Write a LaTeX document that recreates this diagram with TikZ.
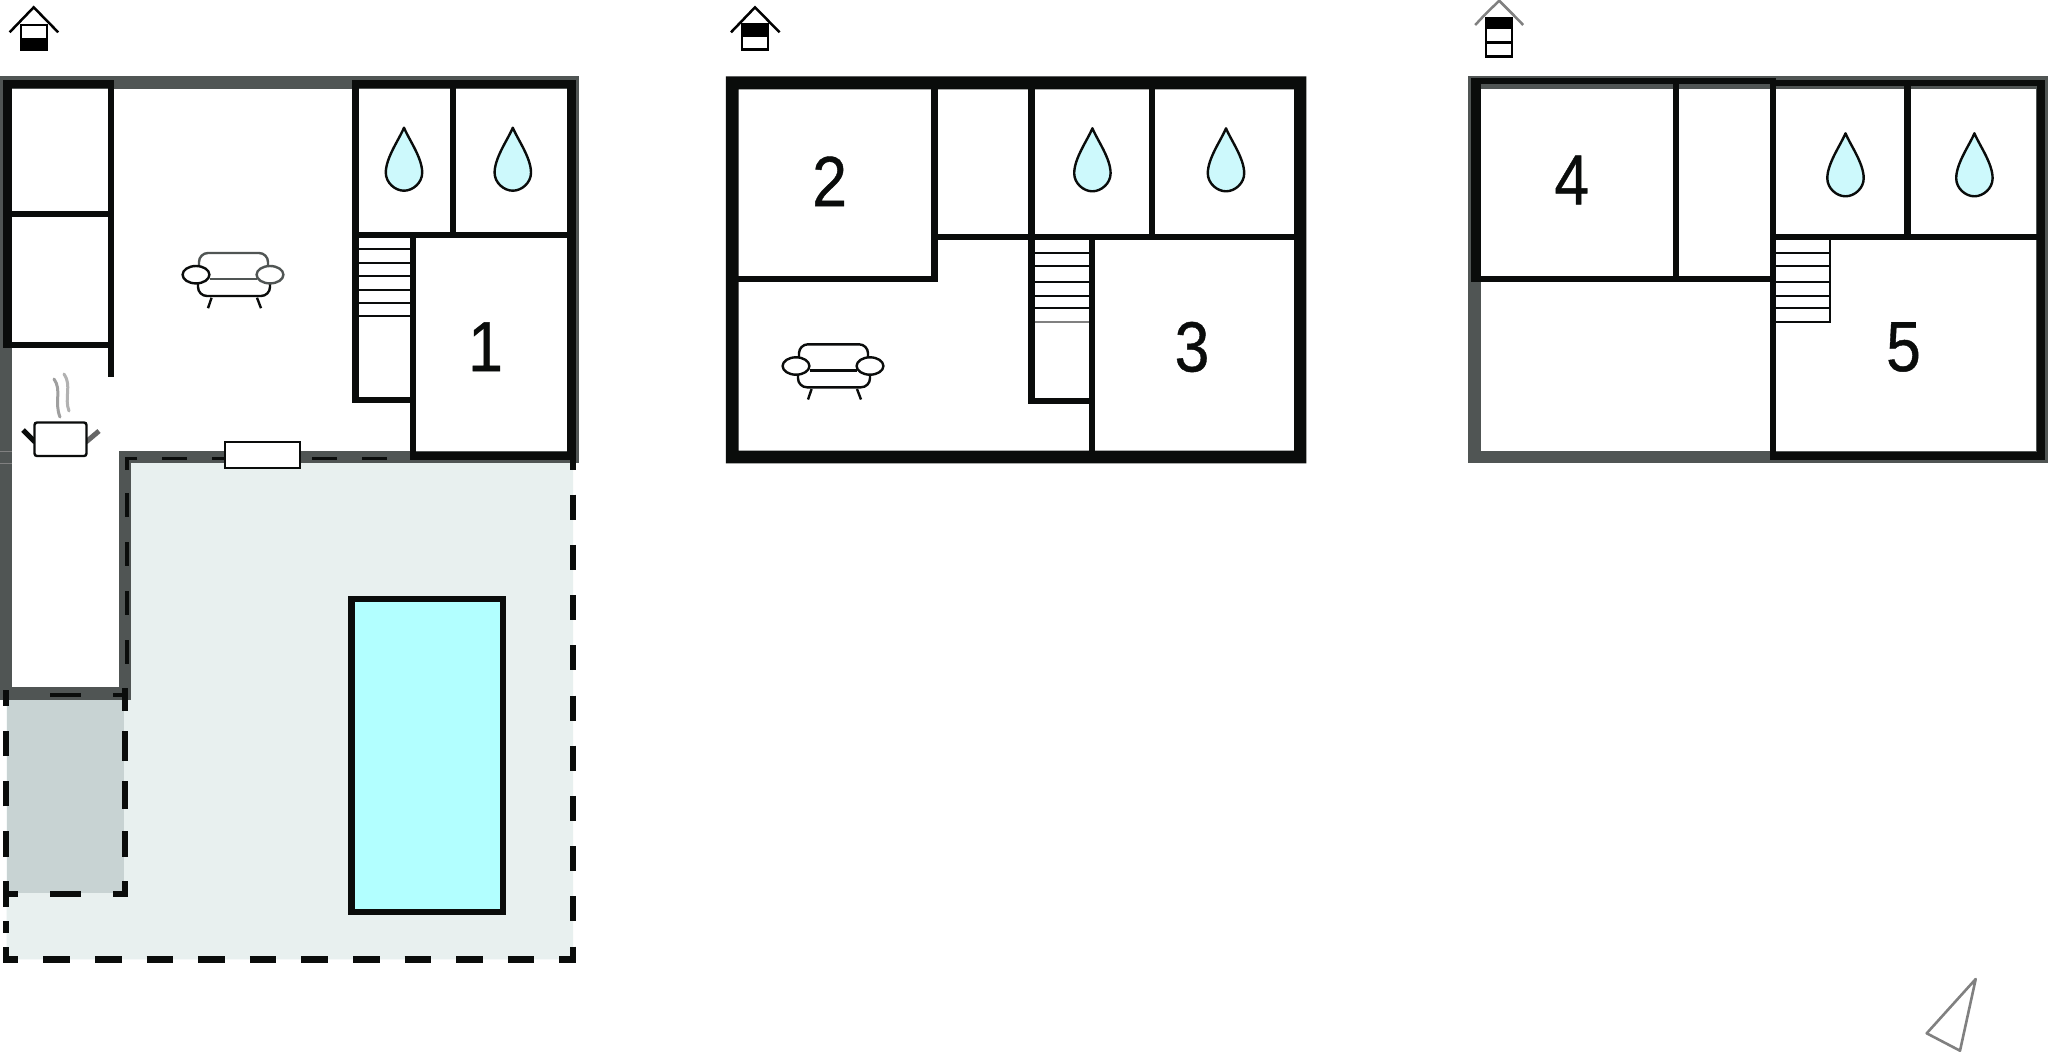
\documentclass[tikz,border=0pt]{standalone}
\usepackage{fontspec}
\setmainfont{Liberation Sans}
\definecolor{wallk}{HTML}{0A0C0B}
\definecolor{wallg}{HTML}{505554}
\definecolor{terrace}{HTML}{E8F0EF}
\definecolor{covered}{HTML}{C8D3D3}
\definecolor{pool}{HTML}{B2FFFF}
\definecolor{dropc}{HTML}{CDF9FC}
\tikzset{
  x=1pt,y=-1pt,
  blk/.style={fill=wallk},
  gry/.style={fill=wallg},
  stepline/.style={draw=wallk,line width=2pt},
  digit/.style={inner sep=0pt,text=wallk},
  roofline/.style={line width=2.5pt,line join=miter},
  iconbox/.style={draw=black,line width=2.5pt,fill=white},
  dashv/.style={draw=wallk,line width=6pt},
  dashthin/.style={draw=wallk,line width=3.6pt},
  pics/waterdrop/.style={code={
    \draw[fill=dropc,draw=wallk,line width=2.4pt,line join=round]
      (0,0) .. controls (5,12) and (18.2,30) .. (18.2,45)
      .. controls (18.2,55) and (9,63) .. (0,63)
      .. controls (-9,63) and (-18.2,55) .. (-18.2,45)
      .. controls (-18.2,30) and (-5,12) .. (0,0) -- cycle;
  }},
  pics/sofa/.style={code={
    \draw[#1,line width=2.4pt,rounded corners=9pt] (-34,-4) -- (-34,-21.7) -- (35,-21.7) -- (35,-4);
    \draw[#1,line width=2.4pt] (-23,4.3) -- (24,4.3);
    \draw[wallk,line width=2.4pt,rounded corners=9pt] (-35,8) -- (-35,21.3) -- (37,21.3) -- (37,8);
    \draw[wallk,line width=2.4pt] (-21.4,23) -- (-25,33.5) (24,23) -- (28,33.5);
    \draw[wallk,line width=2.4pt,fill=white] (-37,0) ellipse [x radius=13.4,y radius=8.7];
    \draw[#1,line width=2.4pt,fill=white] (37,0) ellipse [x radius=13.4,y radius=8.7];
  }}
}
\newcommand{\digitnum}[1]{\scalebox{0.88}[1]{\fontspec{Liberation Sans}[FakeBold=0.6]\fontsize{71}{71}\selectfont #1}}
\begin{document}
\begin{tikzpicture}
\useasboundingbox (0,0) rectangle (2048,1061);
\fill[white] (0,0) rectangle (2048,1061);

%% ---------- plan 1 ----------
\fill[terrace] (131,463) -- (573,463) -- (573,959.3) -- (6.5,959.3) -- (6.5,699.6) -- (131,699.6) -- cycle;
\fill[covered] (6.5,699.6) rectangle (124.4,893);
% grey walls
\fill[gry] (0,76) rectangle (579,89);
\fill[gry] (0,76) rectangle (12,699.6);
\fill[gry] (567,76) rectangle (579,463);
\fill[gry] (119,451) rectangle (579,463);
\fill[gry] (119,451) rectangle (131,699.6);
\fill[gry] (0,687.2) rectangle (131,699.6);
\draw[gray,line width=.7pt] (0,451) -- (12,451) (0,463) -- (12,463);
% black walls, left block
\fill[blk] (3,80) rectangle (114,88);
\fill[blk] (3,80) rectangle (12,348);
\fill[blk] (108,80) rectangle (114,377);
\fill[blk] (3,342) rectangle (114,348);
\fill[blk] (12,211) rectangle (108,217);
% black walls, right block
\fill[blk] (352,80) rectangle (576,88);
\fill[blk] (352,80) rectangle (358.6,403);
\fill[blk] (358,232) rectangle (568,238);
\fill[blk] (450,88) rectangle (455.5,232);
\fill[blk] (567,80) rectangle (576,460);
\fill[blk] (410,238) rectangle (416.4,460);
\fill[blk] (352,397) rectangle (410,403);
\fill[blk] (410,452) rectangle (576,460);
\foreach \yy in {249.3,262.7,276,290,302.7,316}
  \draw[stepline] (358,\yy) -- (410,\yy);
\pic at (404,127.7) {waterdrop};
\pic at (512.8,127.7) {waterdrop};
\pic at (233,274.7) {sofa={draw=wallg}};
% pot
\draw[gray!75,line width=3pt,line cap=round] (54,379) .. controls (62,390) and (54,402) .. (60,417);
\draw[gray!60,line width=3pt,line cap=round] (64,374) .. controls (72,385) and (64,398) .. (69,411);
\draw[wallk,line width=5pt] (23,430) -- (35,442);
\draw[gray!80!black,line width=5pt] (86,442) -- (99,431);
\draw[wallk,line width=2.4pt,fill=white,rounded corners=2.5pt] (34.5,422.5) -- (86.5,422.5) -- (86.5,456) -- (34.5,456) -- cycle;
% terrace dashes
\draw[dashv,line width=6.5pt,dash pattern=on 25.1pt off 25.1pt,dash phase=14.5] (572.8,459) -- (572.8,962.5);
\draw[dashv,line width=6.5pt,dash pattern=on 26.6pt off 25pt,dash phase=11.2] (3,959.5) -- (576,959.5);
\draw[dashv] (6.3,962) -- (6.3,946.5) (6.3,932.8) -- (6.3,920.7) (6.3,907) -- (6.3,881) (6.3,857) -- (6.3,831.2)
  (6.3,806.4) -- (6.3,781.2) (6.3,756) -- (6.3,731.3) (6.3,705.5) -- (6.3,690);
\draw[dashv] (124.5,688) -- (124.5,710.6) (124.5,731.3) -- (124.5,760.6) (124.5,781.2) -- (124.5,808.8) (124.5,831.2) -- (124.5,857) (124.5,881) -- (124.5,896.6);
\draw[dashv,line width=4pt] (3,695) -- (8.4,695) (50,695) -- (81,695) (113,695) -- (127.5,695);
\draw[dashv] (8.4,893.5) -- (18.4,893.5) (50,893.5) -- (81,893.5) (113,893.5) -- (127.5,893.5);
\draw[dashthin] (137,458.5) -- (125,458.5) (126.8,458.5) -- (126.8,470);
\draw[dashthin,dash pattern=on 25pt off 25pt] (162,458.5) -- (410,458.5);
\draw[dashthin,dash pattern=on 24pt off 25pt] (126.8,493) -- (126.8,688);
% window
\draw[wallk,line width=2.4pt,fill=white] (225,442) rectangle (300,468);
% pool
\draw[wallk,line width=6.3pt,fill=pool] (351.5,599.3) rectangle (503,911.7);
% icon 1
\draw[iconbox] (21,25) rectangle (47,50);
\fill[black] (20,37.7) rectangle (48,50.7);
\draw[roofline] (9.6,32.3) -- (33.7,7.3) -- (58.2,32.3);
\node[digit] (n1) at (485.5,346.7) {\digitnum{1}};

%% ---------- plan 2 ----------
\fill[blk,even odd rule] (725.8,76.3) rectangle (1306.3,463.3) (738.5,89.3) rectangle (1294,450.7);
\fill[blk] (931.4,89) rectangle (937.8,282.3);
\fill[blk] (738,276.3) rectangle (937.8,282.3);
\fill[blk] (937.8,234.3) rectangle (1294,240);
\fill[blk] (1028.3,89) rectangle (1034.6,403.7);
\fill[blk] (1149,89) rectangle (1155,234.3);
\fill[blk] (1088.8,240) rectangle (1094.7,451);
\fill[blk] (1034,397.7) rectangle (1089,403.7);
\foreach \yy in {253.3,266,281.7,296,308.3}
  \draw[stepline] (1034.6,\yy) -- (1089,\yy);
\draw[draw=gray,line width=2pt] (1034.6,321.7) -- (1089,321.7);
\pic at (1092.4,128.3) {waterdrop};
\pic at (1226,128.3) {waterdrop};
\pic at (833,366) {sofa={draw=wallk}};
\draw[iconbox] (742,24.5) rectangle (768,49.5);
\fill[black] (741,23.3) rectangle (769.3,37);
\draw[roofline] (731,32.3) -- (755,7.3) -- (779.6,32.3);
\node[digit] (n2) at (829.6,181.3) {\digitnum{2}};
\node[digit] (n3) at (1192,347) {\digitnum{3}};

%% ---------- plan 3 ----------
\fill[gry] (1468,76.3) rectangle (2048,89);
\fill[gry] (1468,76.3) rectangle (1480.5,463.3);
\fill[gry] (1468,450.7) rectangle (1776,463.3);
\fill[gry] (2036,76.3) rectangle (2048,463.3);
\fill[gry] (1776,450.7) rectangle (2048,463.3);
\fill[blk] (1471,78) rectangle (1776,84);
\fill[blk] (1471,78) rectangle (1480.5,282.3);
\fill[blk] (1471,276.3) rectangle (1770,282.3);
\fill[blk] (1673,84) rectangle (1679,276.3);
\fill[blk] (1776,80) rectangle (2045,86);
\fill[blk] (1769.6,78) rectangle (1776,460);
\fill[blk] (1903.9,86) rectangle (1910.7,234.3);
\fill[blk] (1776,234.3) rectangle (2039,240.3);
\fill[blk] (2037,80) rectangle (2045,460);
\fill[blk] (1769.6,452.3) rectangle (2045,460);
\draw[stepline] (1829.5,240) -- (1829.5,322.5);
\foreach \yy in {253.3,266,281.7,296,308.3,321.7}
  \draw[stepline] (1776,\yy) -- (1830,\yy);
\pic at (1845.5,133.3) {waterdrop};
\pic at (1974.4,133.3) {waterdrop};
\draw[iconbox] (1486,18) rectangle (1512,56.3);
\fill[black] (1485,16.7) rectangle (1513,29.3);
\draw[black,line width=2.5pt] (1485,42.7) -- (1513,42.7);
\draw[roofline,draw=gray] (1475.2,25) -- (1485,14.5) (1513,14.5) -- (1523.2,25);
\draw[roofline,draw=gray] (1485,14.5) -- (1499.2,.7) -- (1513,14.5);
\node[digit] (n4) at (1571.7,180) {\digitnum{4}};
\node[digit] (n5) at (1903.5,347) {\digitnum{5}};

%% ---------- compass ----------
\draw[draw=gray,line width=2.6pt,line join=round] (1975.7,979) -- (1926.7,1033.3) -- (1960,1050.7) -- cycle;
\end{tikzpicture}
\end{document}
